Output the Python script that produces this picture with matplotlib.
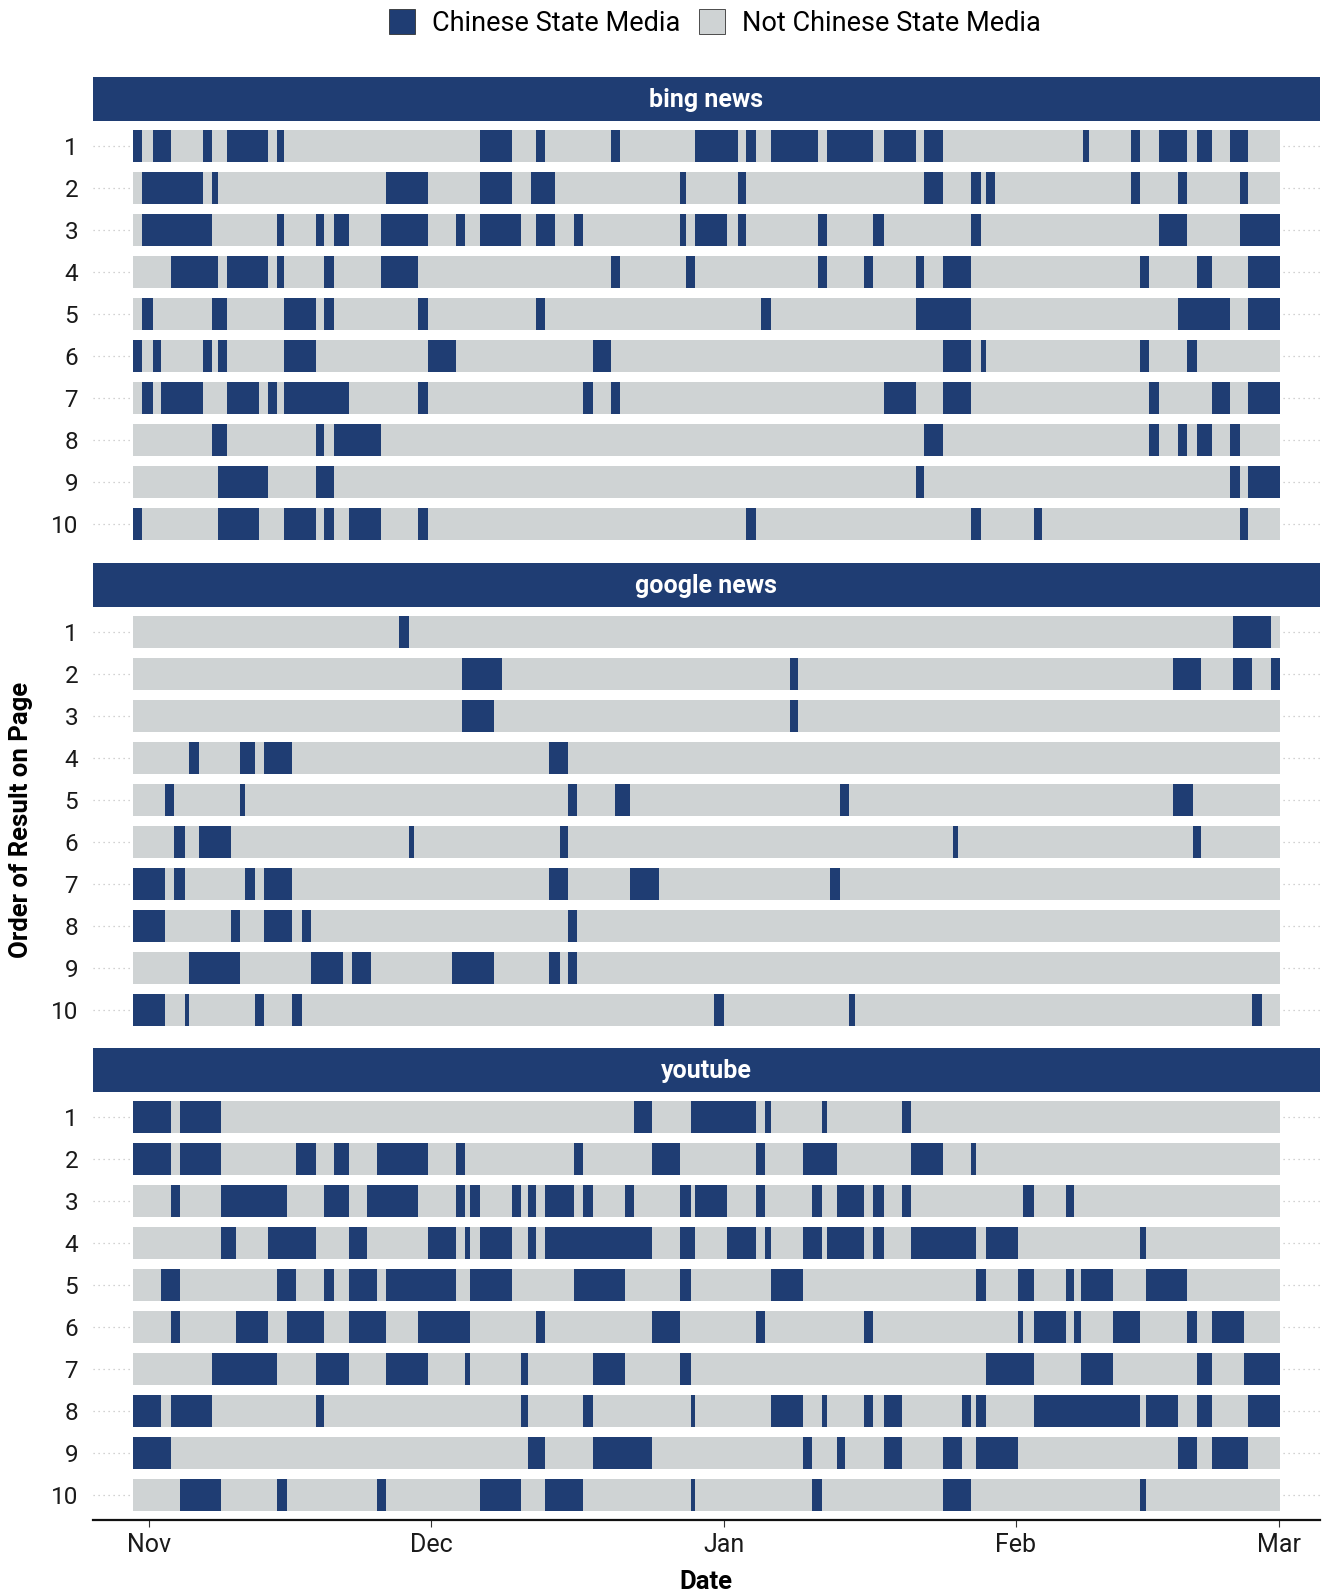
import datetime as dt
import matplotlib
matplotlib.use("Agg")
import matplotlib.pyplot as plt
import matplotlib.dates as mdates
from matplotlib.patches import Patch

plt.rcParams["font.family"] = ["Roboto", "DejaVu Sans"]

BLUE = "#1f3d73"
GREY = "#cfd3d4"

# x values are days counted from 1 Nov; each pair is one run of
# "Chinese State Media" results (start, end) for that rank
FIRST_DAY = dt.datetime(2022, 11, 1)
SPAN = (-1.7, 120.1)
RANKS = list(range(1, 11))
PANELS = ["bing news", "google news", "youtube"]
LEGEND_LABELS = ["Chinese State Media", "Not Chinese State Media"]

bing_news = [
    [(-1.7, -0.7), (0.4, 2.4), (5.8, 6.7), (8.3, 12.7), (13.6, 14.3), (35.2, 38.6), (41.1, 42.1),
     (49.1, 50.0), (58.0, 62.5), (63.4, 64.4), (66.0, 71.0), (72.0, 76.9), (78.0, 81.4), (82.3, 84.3),
     (99.2, 99.8), (104.2, 105.2), (107.2, 110.2), (111.2, 112.8), (114.7, 116.7)],
    [(-0.7, 5.8), (6.7, 7.3), (25.2, 29.6), (35.2, 38.6), (40.6, 43.1), (56.4, 57.0), (62.5, 63.4),
     (82.3, 84.3), (87.3, 88.3), (88.9, 89.8), (104.2, 105.2), (109.2, 110.2), (115.8, 116.7)],
    [(-0.7, 6.7), (13.6, 14.3), (17.7, 18.6), (19.7, 21.3), (24.7, 29.6), (32.6, 33.6), (35.2, 39.5),
     (41.1, 43.1), (45.1, 46.1), (56.4, 57.0), (58.0, 61.4), (62.5, 63.4), (71.0, 72.0), (76.9, 78.0),
     (87.3, 88.3), (107.2, 110.2), (115.8, 120.1)],
    [(2.4, 7.3), (8.3, 12.7), (13.6, 14.3), (18.6, 19.7), (24.7, 28.6), (49.1, 50.0), (57.0, 58.0),
     (71.0, 72.0), (75.9, 76.9), (81.4, 82.3), (84.3, 87.3), (105.2, 106.2), (111.2, 112.8), (116.7, 120.1)],
    [(-0.7, 0.4), (6.7, 8.3), (14.3, 17.7), (18.6, 19.7), (28.6, 29.6), (41.1, 42.1), (65.0, 66.0),
     (81.4, 87.3), (109.2, 114.7), (116.7, 120.1)],
    [(-1.7, -0.7), (0.4, 1.3), (5.8, 6.7), (7.3, 8.3), (14.3, 17.7), (29.6, 32.6), (47.1, 49.1),
     (84.3, 87.3), (88.3, 88.9), (105.2, 106.2), (110.2, 111.2)],
    [(-0.7, 0.4), (1.3, 5.8), (8.3, 11.7), (12.7, 13.6), (14.3, 21.3), (28.6, 29.6), (46.1, 47.1),
     (49.1, 50.0), (78.0, 81.4), (84.3, 87.3), (106.2, 107.2), (112.8, 114.7), (116.7, 120.1)],
    [(6.7, 8.3), (17.7, 18.6), (19.7, 24.7), (82.3, 84.3), (106.2, 107.2), (109.2, 110.2),
     (111.2, 112.8), (114.7, 115.8)],
    [(7.3, 12.7), (17.7, 19.7), (81.4, 82.3), (114.7, 115.8), (116.7, 120.1)],
    [(-1.7, -0.7), (7.3, 11.7), (14.3, 17.7), (18.6, 19.7), (21.3, 24.7), (28.6, 29.6), (63.4, 64.4),
     (87.3, 88.3), (93.9, 94.8), (115.8, 116.7)],
]

google_news = [
    [(26.6, 27.6), (115.1, 119.1)],
    [(33.2, 37.5), (68.0, 68.9), (108.7, 111.7), (115.1, 117.1), (119.1, 120.1)],
    [(33.2, 36.6), (68.0, 68.9)],
    [(4.3, 5.3), (9.7, 11.3), (12.2, 15.2), (42.5, 44.5)],
    [(1.7, 2.7), (9.7, 10.2), (44.5, 45.5), (49.5, 51.1), (73.4, 74.3), (108.7, 110.8)],
    [(2.7, 3.8), (5.3, 8.7), (27.6, 28.2), (43.6, 44.5), (85.3, 85.9), (110.8, 111.7)],
    [(-1.7, 1.7), (2.7, 3.8), (10.2, 11.3), (12.2, 15.2), (42.5, 44.5), (51.1, 54.1), (72.3, 73.4)],
    [(-1.7, 1.7), (8.7, 9.7), (12.2, 15.2), (16.3, 17.2), (44.5, 45.5)],
    [(4.3, 9.7), (17.2, 20.6), (21.6, 23.6), (32.2, 36.6), (42.5, 43.6), (44.5, 45.5)],
    [(-1.7, 1.7), (3.8, 4.3), (11.3, 12.2), (15.2, 16.3), (60.0, 61.0), (74.3, 75.0), (117.1, 118.1)],
]

youtube = [
    [(-1.7, 2.4), (3.3, 7.7), (51.5, 53.4), (57.5, 64.4), (65.4, 66.0), (71.4, 72.0), (79.9, 80.9)],
    [(-1.7, 2.4), (3.3, 7.7), (15.6, 17.7), (19.7, 21.3), (24.2, 29.6), (32.6, 33.6), (45.1, 46.1),
     (53.4, 56.4), (64.4, 65.4), (69.4, 73.0), (80.9, 84.3), (87.3, 87.8)],
    [(2.4, 3.3), (7.7, 14.7), (18.6, 21.3), (23.2, 28.6), (32.6, 33.6), (34.1, 35.2), (38.6, 39.5),
     (40.2, 41.1), (42.1, 45.1), (46.1, 47.1), (50.5, 51.5), (56.4, 57.5), (58.0, 61.4), (64.4, 65.4),
     (70.4, 71.4), (73.0, 75.9), (76.9, 78.0), (79.9, 80.9), (92.8, 93.9), (97.3, 98.2)],
    [(7.7, 9.3), (12.7, 17.7), (21.3, 23.2), (29.6, 32.6), (33.6, 34.1), (35.2, 38.6), (40.2, 41.1),
     (42.1, 53.4), (56.4, 58.0), (61.4, 64.4), (65.4, 66.0), (69.4, 71.4), (72.0, 75.9), (76.9, 78.0),
     (80.9, 87.8), (88.9, 92.3), (105.2, 105.8)],
    [(1.3, 3.3), (13.6, 15.6), (18.6, 19.7), (21.3, 24.2), (25.2, 32.6), (34.1, 38.6), (45.1, 50.5),
     (56.4, 57.5), (66.0, 69.4), (87.8, 88.9), (92.3, 93.9), (97.3, 98.2), (98.9, 102.3), (105.8, 110.2)],
    [(2.4, 3.3), (9.3, 12.7), (14.7, 18.6), (21.3, 25.2), (28.6, 34.1), (41.1, 42.1), (53.4, 56.4),
     (64.4, 65.4), (75.9, 76.9), (92.3, 92.8), (93.9, 97.3), (98.2, 98.9), (102.3, 105.2), (110.2, 111.2),
     (112.8, 116.2)],
    [(6.7, 13.6), (17.7, 21.3), (25.2, 29.6), (33.6, 34.1), (39.5, 40.2), (47.1, 50.5), (56.4, 57.5),
     (88.9, 93.9), (98.9, 102.3), (111.2, 112.8), (116.2, 120.1)],
    [(-1.7, 1.3), (2.4, 6.7), (17.7, 18.6), (39.5, 40.2), (46.1, 47.1), (57.5, 58.0), (66.0, 69.4),
     (71.4, 72.0), (75.9, 76.9), (78.0, 79.9), (86.3, 87.3), (87.8, 88.9), (93.9, 105.2), (105.8, 109.2),
     (111.2, 112.8), (116.7, 120.1)],
    [(-1.7, 2.4), (40.2, 42.1), (47.1, 53.4), (69.4, 70.4), (73.0, 73.9), (78.0, 79.9), (84.3, 86.3),
     (87.8, 92.3), (109.2, 111.2), (112.8, 116.7)],
    [(3.3, 7.7), (13.6, 14.7), (24.2, 25.2), (35.2, 39.5), (42.1, 46.1), (57.5, 58.0), (70.4, 71.4),
     (84.3, 87.3), (105.2, 105.8)],
]

W, H = 1325, 1596
DAY0 = mdates.date2num(FIRST_DAY)
TILE_H = 0.76


def px_box(x0, y0, x1, y1):
    # pixel box (top-left origin) -> figure fraction rect
    return [x0 / W, 1 - y1 / H, (x1 - x0) / W, (y1 - y0) / H]


def draw_panel(fig, rows, title, panel_top, show_x):
    strip = fig.add_axes(px_box(92.6, panel_top - 44, 1320, panel_top))
    strip.set_facecolor(BLUE)
    strip.set_xticks([]); strip.set_yticks([])
    for s in strip.spines.values():
        s.set_visible(False)
    strip.text(0.5, 0.47, title, color="white", fontsize=18, fontweight="bold",
               ha="center", va="center", transform=strip.transAxes)

    ax = fig.add_axes(px_box(92.6, panel_top, 1320, panel_top + 428.4))
    for rank, runs in zip(RANKS, rows):
        ax.barh(rank, SPAN[1] - SPAN[0], left=DAY0 + SPAN[0], height=TILE_H,
                color=GREY, linewidth=0, zorder=2)
        for start, end in runs:
            ax.barh(rank, end - start, left=DAY0 + start, height=TILE_H,
                    color=BLUE, linewidth=0, zorder=3)

    ax.set_xlim(DAY0 - 5.96, DAY0 + 124.3)
    ax.set_ylim(10.6, 0.4)
    ax.set_yticks(RANKS)
    ax.set_yticklabels([str(r) for r in RANKS])
    ax.tick_params(axis="y", length=0, pad=10.5, labelsize=17.5, labelcolor="#1a1a1a")
    ax.yaxis.grid(True, linestyle=(0, (1, 3)), color="#c4c4c4", linewidth=0.9, zorder=1)
    ax.set_axisbelow(True)
    for s in ax.spines.values():
        s.set_visible(False)

    if show_x:
        ax.spines["bottom"].set_visible(True)
        ax.spines["bottom"].set_linewidth(1.6)
        ax.spines["bottom"].set_color("#111111")
        ax.xaxis.set_major_locator(mdates.MonthLocator())
        ax.xaxis.set_major_formatter(mdates.DateFormatter("%b"))
        ax.tick_params(axis="x", length=5, width=0.8, pad=4, labelsize=18,
                       color="#333333", labelcolor="#1a1a1a")
    else:
        ax.set_xticks([])
    return ax


def main():
    fig = plt.figure(figsize=(W / 100, H / 100), dpi=100)

    tops = [120.8, 606.8, 1091.8]
    for name, rows, top in zip(PANELS, [bing_news, google_news, youtube], tops):
        draw_panel(fig, rows, name, top, show_x=(name == PANELS[-1]))

    handles = [Patch(facecolor=BLUE, edgecolor="#333333", linewidth=0.6),
               Patch(facecolor=GREY, edgecolor="#333333", linewidth=0.6)]
    fig.legend(handles, LEGEND_LABELS, loc="center", bbox_to_anchor=(715 / W, 1 - 23 / H),
               ncol=2, frameon=False, fontsize=19.5, handlelength=0.96, handleheight=1.0,
               handletextpad=0.65, columnspacing=0.67, borderpad=0.2)

    fig.text(706 / W, 1 - 1582 / H, "Date", fontsize=18.5, fontweight="bold",
             ha="center", va="center")
    fig.text(21 / W, 1 - 820 / H, "Order of Result on Page", fontsize=18.5, fontweight="bold",
             rotation=90, ha="center", va="center")

    fig.savefig("out.png", dpi=100)
    plt.close(fig)


if __name__ == "__main__":
    main()
